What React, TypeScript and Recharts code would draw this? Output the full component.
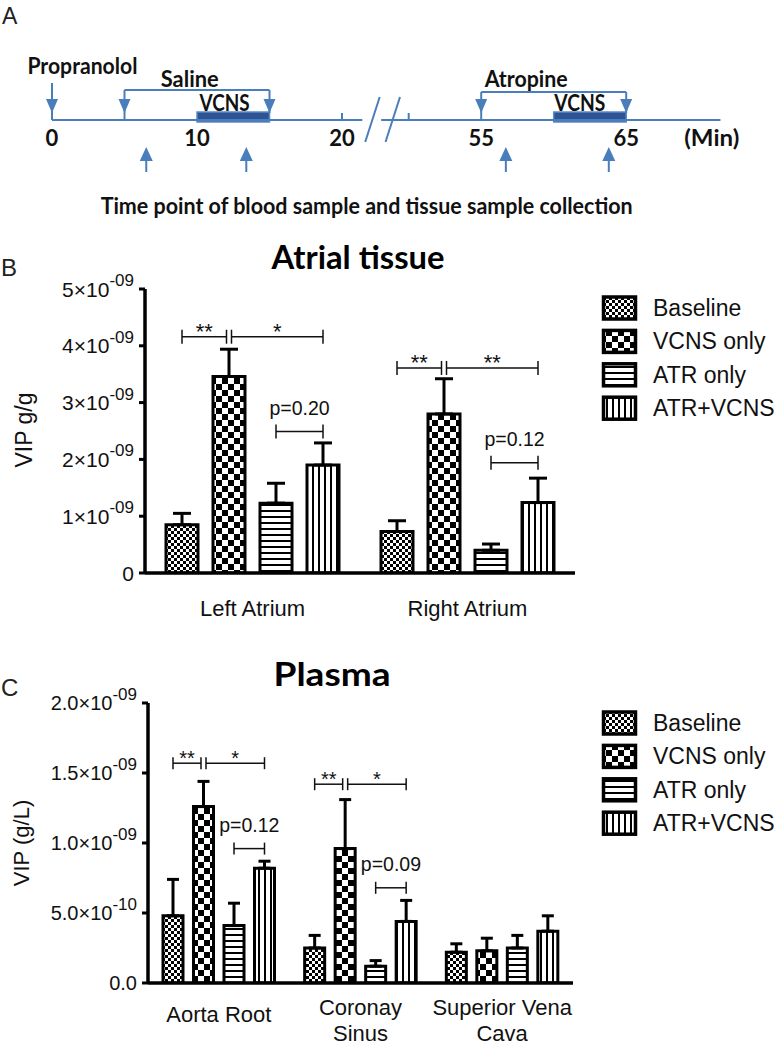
import React from 'react';
import {
  BarChart, Bar, XAxis, YAxis, ErrorBar, LabelList,
  ComposedChart, Scatter, ReferenceLine, ReferenceArea,
} from 'recharts';

// ================= DATA =================
// Panel A – protocol timeline (minutes)
const timelineTicks = [0, 10, 20, 55, 65];
const BREAK_GAP = 25.4; // minutes hidden by the axis break
const timelineSegments: [number, number][] = [[0, 21.4], [48.1, 71.5]];
const minorTicks = [20, 50];
const drugEvents = [{ name: 'Propranolol', t: 0 }];
const salineWindow: [number, number] = [5, 15];
const atropineWindow: [number, number] = [55, 65];
const vcnsWindows: [number, number][] = [[10, 15], [60, 65]];
const sampleTimes = [6.5, 13.4, 56.7, 63.8];
const breakMarks: [number, number][] = [[21.6, 22.6], [23.0, 24.0]];

// Panel B – atrial tissue VIP (g/g)
const groups = ['Baseline', 'VCNS only', 'ATR only', 'ATR+VCNS'];
const atrialSites = ['Left Atrium', 'Right Atrium'];
const atrialBaseline = [0.85e-9, 0.73e-9];
const atrialBaselineSem = [0.2e-9, 0.19e-9];
const atrialVcns = [3.46e-9, 2.8e-9];
const atrialVcnsSem = [0.48e-9, 0.62e-9];
const atrialAtr = [1.23e-9, 0.4e-9];
const atrialAtrSem = [0.35e-9, 0.11e-9];
const atrialAtrVcns = [1.9e-9, 1.24e-9];
const atrialAtrVcnsSem = [0.39e-9, 0.43e-9];
const atrialTicks = [0, 1e-9, 2e-9, 3e-9, 4e-9, 5e-9];

type Bracket = { site: string; from: number; to: number; level: number; label: string };
const atrialBrackets: Bracket[] = [
  { site: 'Left Atrium', from: 0, to: 1, level: 4.16e-9, label: '**' },
  { site: 'Left Atrium', from: 1, to: 3, level: 4.16e-9, label: '*' },
  { site: 'Left Atrium', from: 2, to: 3, level: 2.49e-9, label: 'p=0.20' },
  { site: 'Right Atrium', from: 0, to: 1, level: 3.61e-9, label: '**' },
  { site: 'Right Atrium', from: 1, to: 3, level: 3.61e-9, label: '**' },
  { site: 'Right Atrium', from: 2, to: 3, level: 1.94e-9, label: 'p=0.12' },
];

// Panel C – plasma VIP (g/L)
const plasmaSites = ['Aorta Root', 'Coronay\nSinus', 'Superior Vena\nCava'];
const plasmaBaseline = [0.48e-9, 0.25e-9, 0.22e-9];
const plasmaBaselineSem = [0.26e-9, 0.09e-9, 0.06e-9];
const plasmaVcns = [1.26e-9, 0.96e-9, 0.23e-9];
const plasmaVcnsSem = [0.18e-9, 0.35e-9, 0.09e-9];
const plasmaAtr = [0.41e-9, 0.12e-9, 0.25e-9];
const plasmaAtrSem = [0.16e-9, 0.04e-9, 0.09e-9];
const plasmaAtrVcns = [0.82e-9, 0.44e-9, 0.37e-9];
const plasmaAtrVcnsSem = [0.05e-9, 0.15e-9, 0.11e-9];
const plasmaTicks = [0, 0.5e-9, 1e-9, 1.5e-9, 2e-9];
const plasmaBrackets: Bracket[] = [
  { site: 'Aorta Root', from: 0, to: 1, level: 1.57e-9, label: '**' },
  { site: 'Aorta Root', from: 1, to: 3, level: 1.57e-9, label: '*' },
  { site: 'Aorta Root', from: 2, to: 3, level: 0.96e-9, label: 'p=0.12' },
  { site: 'Coronay\nSinus', from: 0, to: 1, level: 1.42e-9, label: '**' },
  { site: 'Coronay\nSinus', from: 1, to: 3, level: 1.42e-9, label: '*' },
  { site: 'Coronay\nSinus', from: 2, to: 3, level: 0.68e-9, label: 'p=0.09' },
];

// ================= STYLE / LAYOUT =================
const FONT = "'Liberation Sans', Arial, sans-serif";
const BOLD_FONT = "Lato, 'Open Sans', sans-serif";
const BLUE = '#4a7ebb';
const patternIds = ['pat-base', 'pat-vcns', 'pat-atr', 'pat-atrvcns'];

const PX_PER_MIN = 14.5;
const ORIGIN_PX = 52;
const disp = (t: number) => (t > 35 ? t - BREAK_GAP : t);
// vertical levels of the schematic (diagram units, top = 0)
const LV = {
  line: 120, minorTop: 113, headTip: 113, drugTop: 83, salineTop: 90, atropineTop: 92,
  vcnsTop: 112, vcnsBottom: 122, upTip: 147, upBottom: 172, tickLabel: 137,
  breakLow: 142, breakHigh: 97,
};
const diagramText = [
  { text: 'Propranolol', x: disp(2.1), y: 65, w: 110 },
  { text: 'Saline', x: disp(9.5), y: 78, w: 58 },
  { text: 'VCNS', x: disp(11.9), y: 102, w: 50 },
  { text: 'Atropine', x: disp(58.1), y: 78, w: 83 },
  { text: 'VCNS', x: disp(61.8), y: 102, w: 51 },
  { text: '(Min)', x: disp(70.9), y: 137, w: 55 },
  { text: 'Time point of blood sample and tissue sample collection', x: disp(21.7), y: 205, w: 532 },
];

function buildRows(sites: string[], series: number[][], sems: number[][]) {
  return sites.map((site, i) => {
    const r: any = { site };
    series.forEach((s, k) => {
      r['g' + k] = s[i];
      r['e' + k] = [0, sems[k][i]];
    });
    return r;
  });
}
const atrialRows = buildRows(
  atrialSites,
  [atrialBaseline, atrialVcns, atrialAtr, atrialAtrVcns],
  [atrialBaselineSem, atrialVcnsSem, atrialAtrSem, atrialAtrVcnsSem],
);
const plasmaRows = buildRows(
  plasmaSites,
  [plasmaBaseline, plasmaVcns, plasmaAtr, plasmaAtrVcns],
  [plasmaBaselineSem, plasmaVcnsSem, plasmaAtrSem, plasmaAtrVcnsSem],
);

// ================= PANEL A =================
type Seg = { x1: number; y1: number; x2: number; y2: number };

function TimelinePanel() {
  const segs: Seg[] = [];
  timelineSegments.forEach(([a, b]) => segs.push({ x1: disp(a), y1: LV.line, x2: disp(b), y2: LV.line }));
  minorTicks.forEach((t) => segs.push({ x1: disp(t), y1: LV.minorTop, x2: disp(t), y2: LV.line }));
  breakMarks.forEach(([a, b]) => segs.push({ x1: a, y1: LV.breakLow, x2: b, y2: LV.breakHigh }));
  drugEvents.forEach((e) => segs.push({ x1: disp(e.t), y1: LV.drugTop, x2: disp(e.t), y2: LV.line }));
  [salineWindow, atropineWindow].forEach(([a, b], i) => {
    const yTop = i === 0 ? LV.salineTop : LV.atropineTop;
    segs.push({ x1: disp(a), y1: yTop, x2: disp(b), y2: yTop });
    segs.push({ x1: disp(a), y1: yTop, x2: disp(a), y2: LV.line });
    segs.push({ x1: disp(b), y1: yTop, x2: disp(b), y2: LV.headTip });
  });
  sampleTimes.forEach((t) => segs.push({ x1: disp(t), y1: LV.upTip + 10, x2: disp(t), y2: LV.upBottom }));

  const downHeads = [...drugEvents.map((e) => e.t), ...salineWindow, ...atropineWindow].map((t) => ({ x: disp(t), y: LV.headTip }));
  const upHeads = sampleTimes.map((t) => ({ x: disp(t), y: LV.upTip }));
  const tickLabels = timelineTicks.map((t) => ({ x: disp(t), y: LV.tickLabel, text: String(t) }));

  return (
    <ComposedChart width={777} height={230} margin={{ top: 0, right: 0, bottom: 0, left: 0 }}>
      <XAxis type="number" dataKey="x" hide domain={[-ORIGIN_PX / PX_PER_MIN, (777 - ORIGIN_PX) / PX_PER_MIN]} allowDataOverflow />
      <YAxis type="number" dataKey="y" hide reversed domain={[0, 230]} allowDataOverflow />
      {vcnsWindows.map(([a, b], i) => (
        <ReferenceArea key={'v' + i} x1={disp(a)} x2={disp(b)} y1={LV.vcnsTop} y2={LV.vcnsBottom}
          fill="#2f5496" fillOpacity={1} stroke="#5b8ac8" strokeWidth={1.5} ifOverflow="visible" />
      ))}
      {segs.map((s, i) => (
        <ReferenceLine key={'s' + i} segment={[{ x: s.x1, y: s.y1 }, { x: s.x2, y: s.y2 }]}
          stroke={BLUE} strokeWidth={2} ifOverflow="visible" />
      ))}
      <Scatter data={downHeads} isAnimationActive={false}
        shape={(p: any) => <path d={`M${p.cx - 6},${p.cy - 14} L${p.cx + 6},${p.cy - 14} L${p.cx},${p.cy} Z`} fill={BLUE} />} />
      <Scatter data={upHeads} isAnimationActive={false}
        shape={(p: any) => <path d={`M${p.cx - 6.5},${p.cy + 14} L${p.cx + 6.5},${p.cy + 14} L${p.cx},${p.cy} Z`} fill={BLUE} />} />
      <Scatter data={tickLabels} isAnimationActive={false}
        shape={(p: any) => (
          <text x={p.cx} y={p.cy} textAnchor="middle" dominantBaseline="central" fontFamily={BOLD_FONT}
            fontWeight={700} fontSize={22} fill="#111">{p.payload.text}</text>
        )} />
      <Scatter data={diagramText} isAnimationActive={false}
        shape={(p: any) => (
          <text x={p.cx} y={p.cy} textAnchor="middle" dominantBaseline="central" fontFamily={BOLD_FONT}
            fontWeight={700} fontSize={22} fill="#111" textLength={p.payload.w} lengthAdjust="spacingAndGlyphs">
            {p.payload.text}
          </text>
        )} />
    </ComposedChart>
  );
}

// ================= PANELS B / C =================
type PanelCfg = {
  rows: any[]; brackets: Bracket[]; ticks: number[]; decimals: number;
  height: number; marginTop: number; marginBottom: number; xAxisHeight: number;
  yAxisWidth: number; marginRight: number; barSize: number; barGap: number; capHalf: number;
  tickFs: number; supFs: number; supDy: number; catFs: number; catDy: number; catDyMulti: number; catLineH: number;
  starFs: number; pFs: number; endTick: number;
};

function sciParts(v: number, decimals: number): [string, string] {
  if (v === 0) return [decimals ? (0).toFixed(decimals) : '0', ''];
  const e = Math.floor(Math.log10(v) + 1e-9);
  const m = v / Math.pow(10, e);
  const es = (e < 0 ? '-' : '') + String(Math.abs(e)).padStart(2, '0');
  return [m.toFixed(decimals) + '\u00d710', es];
}

function VipPanel({ cfg }: { cfg: PanelCfg }) {
  const step = cfg.barSize + cfg.barGap;
  const yTick = (p: any) => {
    const [main, sup] = sciParts(p.payload.value, cfg.decimals);
    return (
      <text x={p.x} y={p.y} textAnchor="end" dominantBaseline="central" fontFamily={FONT} fontSize={cfg.tickFs} fill="#111">
        {main}
        {sup ? <tspan fontSize={cfg.supFs} dy={cfg.supDy}>{sup}</tspan> : null}
      </text>
    );
  };
  const xTick = (p: any) => {
    const lines = String(p.payload.value).split('\n');
    const dy0 = lines.length > 1 ? cfg.catDyMulti : cfg.catDy;
    return (
      <text x={p.x} y={p.y + dy0} textAnchor="middle" fontFamily={FONT} fontSize={cfg.catFs} fill="#111">
        {lines.map((l, i) => (
          <tspan key={i} x={p.x} dy={i === 0 ? 0 : cfg.catLineH}>{l}</tspan>
        ))}
      </text>
    );
  };
  const bracketContent = (p: any) => {
    const vb = p.viewBox || p;
    const site = p.value;
    const row = cfg.rows.find((r) => r.site === site);
    if (!row || !vb || !vb.height) return null;
    const bottom = vb.y + vb.height;
    const k = vb.height / row.g3;
    const c3 = vb.x + vb.width / 2;
    const cx = (i: number) => c3 - (3 - i) * step;
    const items = cfg.brackets.filter((b) => b.site === site);
    return (
      <g>
        {items.map((b, i) => {
          const py = bottom - b.level * k;
          const x1 = cx(b.from) + (b.from === 1 ? 2.5 : 0);
          const x2 = cx(b.to) - (b.to === 1 ? 2.5 : 0);
          const isP = b.label.startsWith('p');
          return (
            <g key={i}>
              <line x1={x1} x2={x2} y1={py} y2={py} stroke="#111" strokeWidth={1.5} />
              <line x1={x1} x2={x1} y1={py - cfg.endTick} y2={py + cfg.endTick} stroke="#111" strokeWidth={1.5} />
              <line x1={x2} x2={x2} y1={py - cfg.endTick} y2={py + cfg.endTick} stroke="#111" strokeWidth={1.5} />
              <text x={(x1 + x2) / 2} y={isP ? py - 16.5 : py + 2} textAnchor="middle" fontFamily={FONT}
                fontSize={isP ? cfg.pFs : cfg.starFs} fill="#111">{b.label}</text>
            </g>
          );
        })}
      </g>
    );
  };
  return (
    <BarChart width={777} height={cfg.height} data={cfg.rows} barSize={cfg.barSize} barGap={cfg.barGap}
      margin={{ top: cfg.marginTop, right: cfg.marginRight, bottom: cfg.marginBottom, left: 0 }}>
      <XAxis dataKey="site" interval={0} height={cfg.xAxisHeight} tickLine={false} tickSize={0} tickMargin={0}
        axisLine={{ stroke: '#000', strokeWidth: 3.5 }} tick={xTick} />
      <YAxis type="number" width={cfg.yAxisWidth} domain={[cfg.ticks[0], cfg.ticks[cfg.ticks.length - 1]]}
        ticks={cfg.ticks} interval={0} allowDataOverflow tickSize={6} tickMargin={5}
        tickLine={{ stroke: '#000', strokeWidth: 3 }} axisLine={{ stroke: '#000', strokeWidth: 3.5 }} tick={yTick} />
      {[0, 1, 2, 3].map((k) => (
        <Bar key={k} dataKey={'g' + k} name={groups[k]} fill={`url(#${patternIds[k]})`} stroke="#000" strokeWidth={3}
          isAnimationActive={false}>
          <ErrorBar dataKey={'e' + k} direction="y" width={cfg.capHalf} stroke="#000" strokeWidth={3} />
          {k === 3 ? <LabelList dataKey="site" content={bracketContent} /> : null}
        </Bar>
      ))}
    </BarChart>
  );
}

const atrialCfg: PanelCfg = {
  rows: atrialRows, brackets: atrialBrackets, ticks: atrialTicks, decimals: 0,
  height: 390, marginTop: 49, marginBottom: 12, xAxisHeight: 45, yAxisWidth: 145, marginRight: 202,
  barSize: 32, barGap: 15, capHalf: 9, tickFs: 21, supFs: 17, supDy: -9,
  catFs: 22, catDy: 43, catDyMulti: 32, catLineH: 26, starFs: 22, pFs: 19.5, endTick: 7,
};
const plasmaCfg: PanelCfg = {
  rows: plasmaRows, brackets: plasmaBrackets, ticks: plasmaTicks, decimals: 1,
  height: 410, marginTop: 63, marginBottom: 12, xAxisHeight: 55, yAxisWidth: 148, marginRight: 204,
  barSize: 20, barGap: 10.5, capHalf: 6, tickFs: 20, supFs: 17, supDy: -9,
  catFs: 22, catDy: 39, catDyMulti: 32, catLineH: 26, starFs: 20, pFs: 19.5, endTick: 6,
};

// ================= OVERLAY (patterns, titles, legends) =================
function Legend({ top }: { top: number }) {
  return (
    <g>
      {groups.map((g, i) => {
        const cy = top + i * 33.4;
        return (
          <g key={g}>
            <rect x={603.5} y={cy - 11} width={32} height={22} fill={`url(#${patternIds[i]})`} stroke="#000" strokeWidth={3.5} />
            <text x={653} y={cy} dominantBaseline="central" fontFamily={FONT} fontSize={23} fill="#111">{g}</text>
          </g>
        );
      })}
    </g>
  );
}

function Overlay() {
  return (
    <svg width={777} height={1050} style={{ position: 'absolute', left: 0, top: 0 }}>
      <defs>
        <pattern id="pat-base" width="6" height="6" patternUnits="userSpaceOnUse">
          <rect width="6" height="6" fill="#fff" />
          <rect width="3" height="3" fill="#000" />
          <rect x="3" y="3" width="3" height="3" fill="#000" />
        </pattern>
        <pattern id="pat-vcns" width="12" height="12" patternUnits="userSpaceOnUse">
          <rect width="12" height="12" fill="#fff" />
          <rect width="6" height="6" fill="#000" />
          <rect x="6" y="6" width="6" height="6" fill="#000" />
        </pattern>
        <pattern id="pat-atr" width="6" height="6" patternUnits="userSpaceOnUse">
          <rect width="6" height="6" fill="#fff" />
          <rect width="6" height="2" fill="#000" />
        </pattern>
        <pattern id="pat-atrvcns" width="6" height="6" patternUnits="userSpaceOnUse">
          <rect width="6" height="6" fill="#fff" />
          <rect width="2" height="6" fill="#000" />
        </pattern>
      </defs>
      <text x={2} y={24} fontFamily={FONT} fontSize={23} fill="#222">A</text>
      <text x={1} y={276} fontFamily={FONT} fontSize={24} fill="#222">B</text>
      <text x={1} y={696} fontFamily={FONT} fontSize={24} fill="#222">C</text>
      <text x={358} y={269} textAnchor="middle" fontFamily={BOLD_FONT} fontWeight={700} fontSize={33} fill="#000"
        textLength={173} lengthAdjust="spacingAndGlyphs">Atrial tissue</text>
      <text x={332} y={686} textAnchor="middle" fontFamily={BOLD_FONT} fontWeight={700} fontSize={33} fill="#000"
        textLength={117} lengthAdjust="spacingAndGlyphs">Plasma</text>
      <text transform="translate(24,430) rotate(-90)" textAnchor="middle" dominantBaseline="central" fontFamily={FONT}
        fontSize={23} fill="#111">VIP g/g</text>
      <text transform="translate(21,843) rotate(-90)" textAnchor="middle" dominantBaseline="central" fontFamily={FONT}
        fontSize={22} fill="#111">VIP (g/L)</text>
      <Legend top={308} />
      <Legend top={723} />
    </svg>
  );
}

export default function App() {
  return (
    <div style={{ position: 'absolute', left: 0, top: 0, width: 777, height: 1050, background: '#fff', overflow: 'hidden' }}>
      <Overlay />
      <div style={{ position: 'absolute', left: 0, top: 0 }}><TimelinePanel /></div>
      <div style={{ position: 'absolute', left: 0, top: 240 }}><VipPanel cfg={atrialCfg} /></div>
      <div style={{ position: 'absolute', left: 0, top: 640 }}><VipPanel cfg={plasmaCfg} /></div>
    </div>
  );
}
